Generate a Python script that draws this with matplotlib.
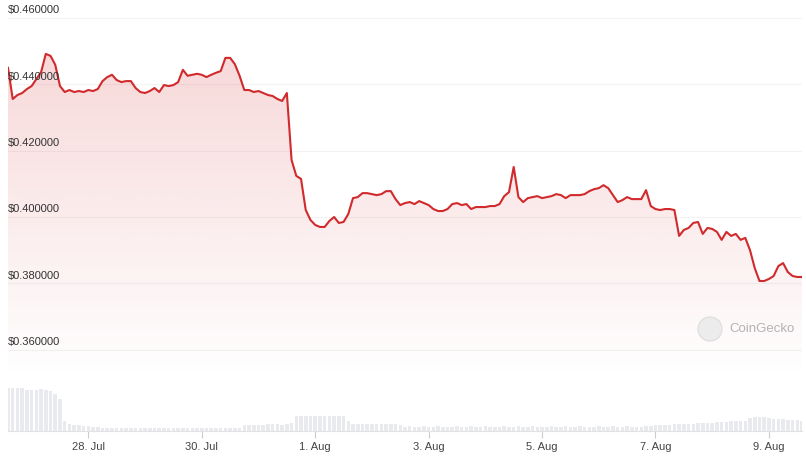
import numpy as np
import pandas as pd
import matplotlib
matplotlib.use("Agg")
import matplotlib.pyplot as plt
import matplotlib.dates as mdates
from matplotlib.patches import Polygon, Circle
from matplotlib.ticker import FuncFormatter

# 2-hourly price (USD)
price = [
    0.4450, 0.4356, 0.4368, 0.4374, 0.4386, 0.4395, 0.4416, 0.4437, 0.4492, 0.4486,
    0.4459, 0.4395, 0.4377, 0.4383, 0.4377, 0.4380, 0.4377, 0.4383, 0.4380, 0.4386,
    0.4410, 0.4422, 0.4429, 0.4413, 0.4407, 0.4410, 0.4410, 0.4389, 0.4377, 0.4374,
    0.4380, 0.4389, 0.4377, 0.4398, 0.4395, 0.4398, 0.4407, 0.4444, 0.4426, 0.4429,
    0.4432, 0.4429, 0.4422, 0.4429, 0.4435, 0.4440, 0.4480, 0.4480, 0.4461, 0.4426,
    0.4383, 0.4383, 0.4377, 0.4380, 0.4374, 0.4368, 0.4365, 0.4356, 0.4350, 0.4374,
    0.4172, 0.4124, 0.4115, 0.4021, 0.3991, 0.3976, 0.3970, 0.3970, 0.3988, 0.4000,
    0.3982, 0.3985, 0.4009, 0.4057, 0.4060, 0.4072, 0.4072, 0.4069, 0.4066, 0.4069,
    0.4078, 0.4078, 0.4054, 0.4036, 0.4042, 0.4045, 0.4039, 0.4048, 0.4042, 0.4036,
    0.4024, 0.4018, 0.4018, 0.4024, 0.4039, 0.4042, 0.4036, 0.4039, 0.4024, 0.4030,
    0.4030, 0.4030, 0.4033, 0.4033, 0.4039, 0.4063, 0.4075, 0.4151, 0.4060, 0.4045,
    0.4057, 0.4060, 0.4063, 0.4057, 0.4060, 0.4063, 0.4069, 0.4066, 0.4057, 0.4066,
    0.4066, 0.4066, 0.4069, 0.4078, 0.4084, 0.4087, 0.4096, 0.4087, 0.4066, 0.4045,
    0.4051, 0.4060, 0.4054, 0.4054, 0.4054, 0.4081, 0.4033, 0.4024, 0.4021, 0.4024,
    0.4024, 0.4021, 0.3943, 0.3961, 0.3967, 0.3982, 0.3985, 0.3949, 0.3967, 0.3964,
    0.3955, 0.3931, 0.3955, 0.3943, 0.3949, 0.3931, 0.3937, 0.3900, 0.3846, 0.3807,
    0.3807, 0.3813, 0.3822, 0.3852, 0.3861, 0.3834, 0.3822, 0.3819, 0.3819,
]

# 2-hourly volume (relative units)
volume = (
    [43, 43, 43, 43, 41, 41, 41, 42, 41, 40, 37, 32, 10, 7, 6, 6, 5, 5, 4, 4]
    + [3] * 30
    + [6, 6, 6, 6, 6, 7, 7, 7, 6, 7, 8]
    + [15] * 11
    + [10, 7, 7, 7, 7, 7, 7, 7, 7, 7, 7, 6]
    + [4, 5, 4, 4, 5, 4, 4, 5, 4, 4] * 5 + [4, 5]
    + [5, 6, 6, 6, 6, 7, 7, 7, 7, 7, 8, 8, 8, 8, 9, 9, 9, 10, 10, 10, 10]
    + [13, 14, 14, 14, 13, 12, 12]
    + [12, 11, 11, 11, 10]
)

tick_dates = ["2024-07-28", "2024-07-30", "2024-08-01", "2024-08-03",
              "2024-08-05", "2024-08-07", "2024-08-09"]
price_ticks = [0.36, 0.38, 0.40, 0.42, 0.44, 0.46]

t = pd.date_range("2024-07-26 14:00", periods=len(price), freq="2h")
tn = mdates.date2num(t)

W, H = 806, 459
fig = plt.figure(figsize=(W / 100, H / 100), dpi=100)
plt.rcParams["font.family"] = ["Liberation Sans", "DejaVu Sans"]

# price panel
ax = fig.add_axes([8 / W, 1 - 380 / H, 794 / W, 370 / H])
y_lo = 0.38 - (380 - 283.3) / 3315
y_hi = 0.38 + (283.3 - 10) / 3315
ax.set_xlim(tn[0], tn[-1])
ax.set_ylim(y_lo, y_hi)

for v in price_ticks:
    ax.axhline(v, color="#f3f3f3", lw=0.8, zorder=0)
    ax.annotate(f"${v:.6f}", xy=(0, v), xycoords=("axes fraction", "data"),
                xytext=(0, 2), textcoords="offset points",
                fontsize=8, color="#333333", va="bottom", ha="left", zorder=5)

# gradient fill under the line
grad = np.zeros((256, 2, 4))
grad[..., 0] = 214 / 255
grad[..., 1] = 41 / 255
grad[..., 2] = 44 / 255
grad[..., 3] = np.linspace(0.18, 0.0, 256)[:, None]
im = ax.imshow(grad, extent=[tn[0], tn[-1], y_lo, max(price)], aspect="auto",
               origin="upper", zorder=1, interpolation="bilinear")
verts = np.column_stack([np.r_[tn, tn[-1], tn[0]], np.r_[price, y_lo, y_lo]])
clip = Polygon(verts, closed=True, facecolor="none", edgecolor="none")
ax.add_patch(clip)
im.set_clip_path(clip)

ax.plot(tn, price, color="#d12a2c", lw=1.5, zorder=3, solid_joinstyle="round")

for s in ax.spines.values():
    s.set_visible(False)
ax.set_xticks([])
ax.set_yticks([])

# watermark
fig.add_artist(Circle((710, H - 329), 12, transform=None,
                      facecolor="#ececec", edgecolor="#dcdcdc", lw=0.8, zorder=4))
fig.text(729 / W, 1 - 329 / H, "CoinGecko", fontsize=9.5, color="#b3b3b3",
         va="center", ha="left")

# volume panel
axv = fig.add_axes([8 / W, 1 - 431 / H, 794 / W, 43 / H])
axv.bar(tn, volume, width=2 / 24 * 0.75, color="#e8eaed", align="center")
axv.set_xlim(tn[0], tn[-1])
axv.set_ylim(0, max(volume))
for k in ["top", "left", "right"]:
    axv.spines[k].set_visible(False)
axv.spines["bottom"].set_color("#e2e2e2")
axv.spines["bottom"].set_linewidth(0.8)
axv.set_yticks([])
axv.set_xticks(mdates.date2num(pd.to_datetime(tick_dates)))
axv.xaxis.set_major_formatter(FuncFormatter(
    lambda x, pos: f"{mdates.num2date(x).day}. {mdates.num2date(x):%b}"))
axv.tick_params(axis="x", length=5, width=0.8, color="#cccccc",
                labelsize=8, labelcolor="#444444", pad=3)

fig.savefig("out.png", dpi=100, facecolor="white")
